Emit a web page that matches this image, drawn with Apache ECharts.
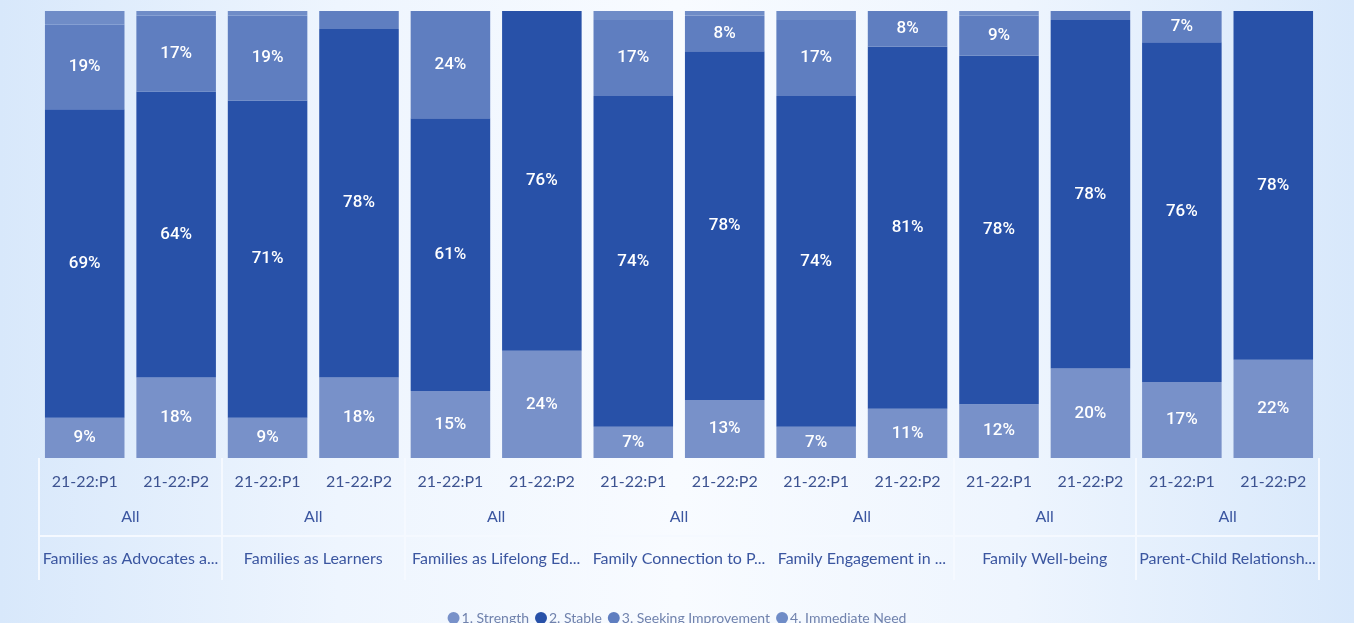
<!DOCTYPE html>
<html>
<head>
<meta charset="utf-8">
<script src="https://cdn.jsdelivr.net/npm/echarts@6/dist/echarts.min.js"></script>
<style>
  html, body { margin: 0; padding: 0; }
  body {
    width: 1354px; height: 623px; overflow: hidden;
    background: linear-gradient(90deg, #d8e8fb 0%, #eef5fe 25%, #f8fbff 50%, #eef5fe 75%, #d8e8fb 100%);
  }
  #main { width: 1354px; height: 623px; }
</style>
</head>
<body>
<div id="main"></div>
<script>
// 分类（两期 × 7个结果领域）
var periods = ['21-22:P1', '21-22:P2', '21-22:P1', '21-22:P2', '21-22:P1', '21-22:P2', '21-22:P1',
               '21-22:P2', '21-22:P1', '21-22:P2', '21-22:P1', '21-22:P2', '21-22:P1', '21-22:P2'];
var groups = ['All', 'All', 'All', 'All', 'All', 'All', 'All'];
var outcomes = ['Families as Advocates and Leaders', 'Families as Learners', 'Families as Lifelong Educators',
                'Family Connection to Peers and Community', 'Family Engagement in Transitions',
                'Family Well-being', 'Parent-Child Relationships'];

// 各等级百分比
var strength = [9, 18, 9, 18, 15, 24, 7, 13, 7, 11, 12, 20, 17, 22];
var stable   = [69, 64, 71, 78, 61, 76, 74, 78, 74, 81, 78, 78, 76, 78];
var seeking  = [19, 17, 19, 4, 24, 0, 17, 8, 17, 8, 9, 2, 7, 0];
var immediate = [3, 1, 1, 0, 0, 0, 2, 1, 2, 0, 1, 0, 0, 0];

var myChart = echarts.init(document.getElementById('main'));

var labelFont = 'Lato, "Noto Sans", sans-serif';
var segLabel = {
    show: true,
    position: 'inside',
    color: '#ffffff',
    fontSize: 17,
    fontWeight: 500,
    fontFamily: 'Roboto, sans-serif',
    formatter: function (p) { return p.value >= 5 ? p.value + '%' : ''; }
};

function makeSeries(name, data, color) {
    return {
        name: name,
        type: 'bar',
        stack: 'total',
        barCategoryGap: '13%',
        data: data,
        itemStyle: { color: color },
        label: segLabel,
        emphasis: { disabled: true }
    };
}

var option = {
    animation: false,
    grid: { left: 39, right: 35, top: 11, bottom: 165 },
    legend: {
        bottom: -7,
        left: 'center',
        icon: 'circle',
        itemWidth: 12,
        itemHeight: 12,
        itemGap: 6,
        textStyle: { color: '#7082ad', fontSize: 14, fontFamily: labelFont, padding: [0, 0, 0, -3] },
        data: ['1. Strength', '2. Stable', '3. Seeking Improvement', '4. Immediate Need']
    },
    xAxis: [{
        type: 'category',
        data: periods,
        axisLine: { show: false },
        axisTick: { show: false },
        axisLabel: { interval: 0, color: '#3d5391', fontSize: 16, fontFamily: labelFont, margin: 16 }
    }, {
        type: 'category',
        data: groups,
        position: 'bottom',
        axisLine: { show: false },
        axisTick: { show: true, interval: 0, length: 122, lineStyle: { color: '#f5f9ff', width: 2 } },
        axisLabel: { interval: 0, color: '#3b56a0', fontSize: 16, fontFamily: labelFont, margin: 51 }
    }, {
        type: 'category',
        data: outcomes,
        position: 'bottom',
        offset: 78,
        axisLine: { show: true, lineStyle: { color: '#f5f9ff', width: 2 } },
        axisTick: { show: false },
        axisLabel: {
            interval: 0, color: '#3b56a0', fontSize: 16, fontFamily: labelFont, margin: 15,
            width: 178, overflow: 'truncate', ellipsis: '...'
        }
    }],
    yAxis: { type: 'value', min: 0, max: 100, show: false },
    series: [
        makeSeries('1. Strength', strength, '#7891c9'),
        makeSeries('2. Stable', stable, '#2851a8'),
        makeSeries('3. Seeking Improvement', seeking, '#5f7ec0'),
        makeSeries('4. Immediate Need', immediate, '#6f8cc7')
    ]
};

myChart.setOption(option);
</script>
</body>
</html>
